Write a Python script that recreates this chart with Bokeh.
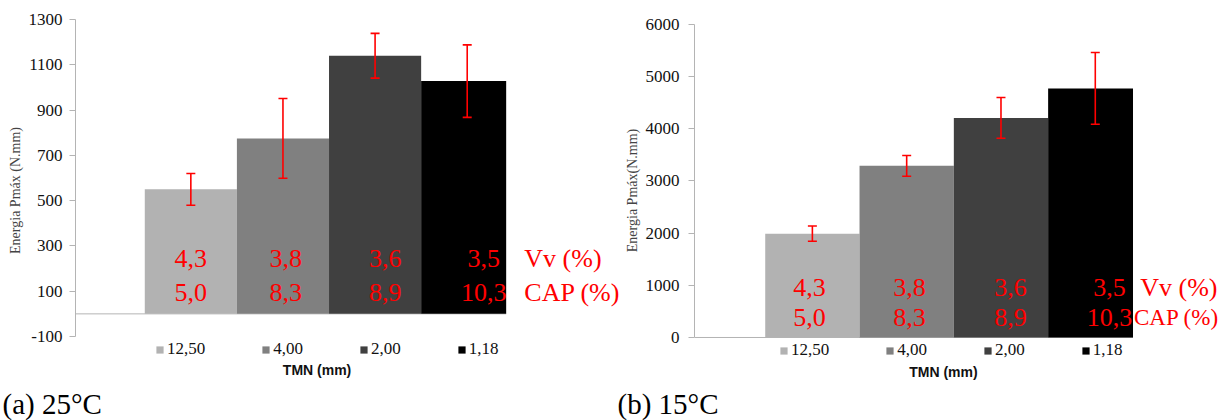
import numpy as np
from bokeh.plotting import figure
from bokeh.models import (ColumnDataSource, Range1d, FixedTicker, Whisker, TeeHead,
                          Legend, LegendItem, Label)
from bokeh.layouts import row, column
from bokeh.core.properties import value
from bokeh.embed import file_html
from bokeh.resources import INLINE

# ---------------- data ----------------
tmn_labels = ["12,50", "4,00", "2,00", "1,18"]
bar_colors = ["#b2b2b2", "#808080", "#404040", "#000000"]
vv_labels = ["4,3", "3,8", "3,6", "3,5"]
cap_labels = ["5,0", "8,3", "8,9", "10,3"]

energy_25 = [550, 775, 1140, 1028]
sd_25 = [70, 176, 99, 160]
energy_15 = [1990, 3290, 4210, 4775]
sd_15 = [146, 200, 390, 687]

yticks_25 = [-100, 100, 300, 500, 700, 900, 1100, 1300]
yticks_15 = [0, 1000, 2000, 3000, 4000, 5000, 6000]

captions = ["(a) 25°C", "(b) 15°C"]

SERIF = "Liberation Serif"
RED = "#ff0000"
AXIS_GRAY = "#b4b4b4"
CHART_H = 380
CAPTION_H = 40


def make_chart(cfg, energy, sd, yticks, ylabel):
    p = figure(width=cfg["width"], height=CHART_H, output_backend="svg",
               toolbar_location=None, tools="", title=None,
               x_axis_location=None, y_axis_location="left",
               x_range=Range1d(*cfg["x_range"]), y_range=Range1d(*cfg["y_range"]),
               min_border_left=cfg["border_left"], min_border_right=0,
               min_border_top=0, min_border_bottom=0,
               outline_line_color=None)
    p.grid.grid_line_color = None

    ax = p.yaxis[0]
    ax.ticker = FixedTicker(ticks=yticks)
    ax.major_label_overrides = {t: str(t) for t in yticks}
    ax.bounds = (yticks[0], yticks[-1])
    ax.axis_line_color = AXIS_GRAY
    ax.major_tick_line_color = AXIS_GRAY
    ax.major_tick_out = 6
    ax.major_tick_in = 0
    ax.minor_tick_line_color = None
    ax.major_label_standoff = cfg["tick_standoff"]
    ax.major_label_text_font = SERIF
    ax.major_label_text_font_size = "17px"
    ax.major_label_text_color = "#111111"
    ax.axis_label = ylabel
    ax.axis_label_text_font = SERIF
    ax.axis_label_text_font_style = "normal"
    ax.axis_label_text_font_size = "14px"
    ax.axis_label_standoff = 3

    n = len(energy)
    x = np.arange(1, n + 1, dtype=float)
    clip = cfg["clip"]

    # category axis line at zero
    p.line(x=[cfg["x_range"][0], clip], y=[0, 0], line_color=AXIS_GRAY, line_width=1)

    src = ColumnDataSource(dict(
        left=x - 0.5, right=np.minimum(x + 0.5, clip), top=energy,
        bottom=np.zeros(n), color=bar_colors, label=tmn_labels,
        upper=np.array(energy) + np.array(sd), lower=np.array(energy) - np.array(sd),
        x=x,
    ))
    bars = p.quad(left="left", right="right", top="top", bottom="bottom",
                  fill_color="color", line_color=None, source=src)

    p.add_layout(Whisker(base="x", upper="upper", lower="lower", source=src,
                         line_color=RED, line_width=1.6, level="overlay",
                         upper_head=TeeHead(size=9, line_color=RED, line_width=1.6),
                         lower_head=TeeHead(size=9, line_color=RED, line_width=1.6)))

    # red annotations inside the bars
    lx = x + np.array(cfg["label_dx"])
    for txt, yv in ((vv_labels, cfg["vv_y"]), (cap_labels, cfg["cap_y"])):
        p.text(x=lx, y=[yv] * n, text=txt, text_font=value(SERIF),
               text_font_size="26px", text_color=RED, text_align="center",
               text_baseline="middle")
    p.text(x=[cfg["vv_x"]], y=[cfg["vv_y"]], text=["Vv (%)"], text_font=value(SERIF),
           text_font_size="26px", text_color=RED, text_align="left", text_baseline="middle")
    p.text(x=[cfg["cap_x"]], y=[cfg["cap_y"]], text=["CAP (%)"], text_font=value(SERIF),
           text_font_size=cfg["cap_size"], text_color=RED, text_align="left",
           text_baseline="middle")

    items = [LegendItem(label=lab, renderers=[bars], index=i) for i, lab in enumerate(tmn_labels)]
    legend = Legend(items=items, orientation="horizontal", location=cfg["legend_loc"],
                    glyph_width=9, glyph_height=9, label_standoff=3, spacing=cfg["legend_spacing"],
                    padding=0, margin=0, border_line_color=None, background_fill_alpha=0,
                    label_text_font=SERIF, label_text_font_size="17px",
                    label_text_color="#111111", label_height=9)
    p.add_layout(legend)

    p.add_layout(Label(x=cfg["tmn_pos"][0], y=cfg["tmn_pos"][1], text="TMN (mm)",
                       text_font="Liberation Sans", text_font_style="bold",
                       text_font_size="14px", text_align="center", text_baseline="middle",
                       text_color="#111111"))
    return p


def make_caption(width, text, x_off, baseline):
    c = figure(width=width, height=CAPTION_H, output_backend="svg",
               toolbar_location=None, tools="", title=None,
               x_axis_location=None, y_axis_location=None,
               x_range=Range1d(0, width), y_range=Range1d(0, CAPTION_H),
               min_border=0, outline_line_color=None)
    c.grid.grid_line_color = None
    c.text(x=[x_off], y=[baseline], text=[text], text_font=value(SERIF),
           text_font_size="29px", text_color="#000000", text_align="left",
           text_baseline="alphabetic")
    return c


cfg_25 = dict(width=620, border_left=75, x_range=(-0.252, 5.664), y_range=(-294.3, 1384),
              tick_standoff=7, clip=4.423, label_dx=[0.0, 0.03, 0.11, 0.18],
              vv_y=244, cap_y=95, vv_x=4.62, cap_x=4.62, cap_size="26px",
              legend_loc=(80, 21), legend_spacing=56, tmn_pos=(2.37, -250))
cfg_15 = dict(width=602, border_left=74, x_range=(-0.25, 5.349), y_range=(-824.3, 6460),
              tick_standoff=9, clip=4.40, label_dx=[-0.03, 0.03, 0.1, 0.15],
              vv_y=953, cap_y=389, vv_x=4.477, cap_x=4.41, cap_size="23px",
              legend_loc=(85, 20), legend_spacing=56, tmn_pos=(2.39, -665))

p1 = make_chart(cfg_25, energy_25, sd_25, yticks_25, "Energia Pmáx (N.mm)")
p2 = make_chart(cfg_15, energy_15, sd_15, yticks_15, "Energia Pmáx(N.mm)")
c1 = make_caption(615, captions[0], 2, 17)
c2 = make_caption(607, captions[1], 2, 17)

layout = column(row(p1, p2), row(c1, c2))
open("out.html", "w").write(file_html(layout, INLINE))
